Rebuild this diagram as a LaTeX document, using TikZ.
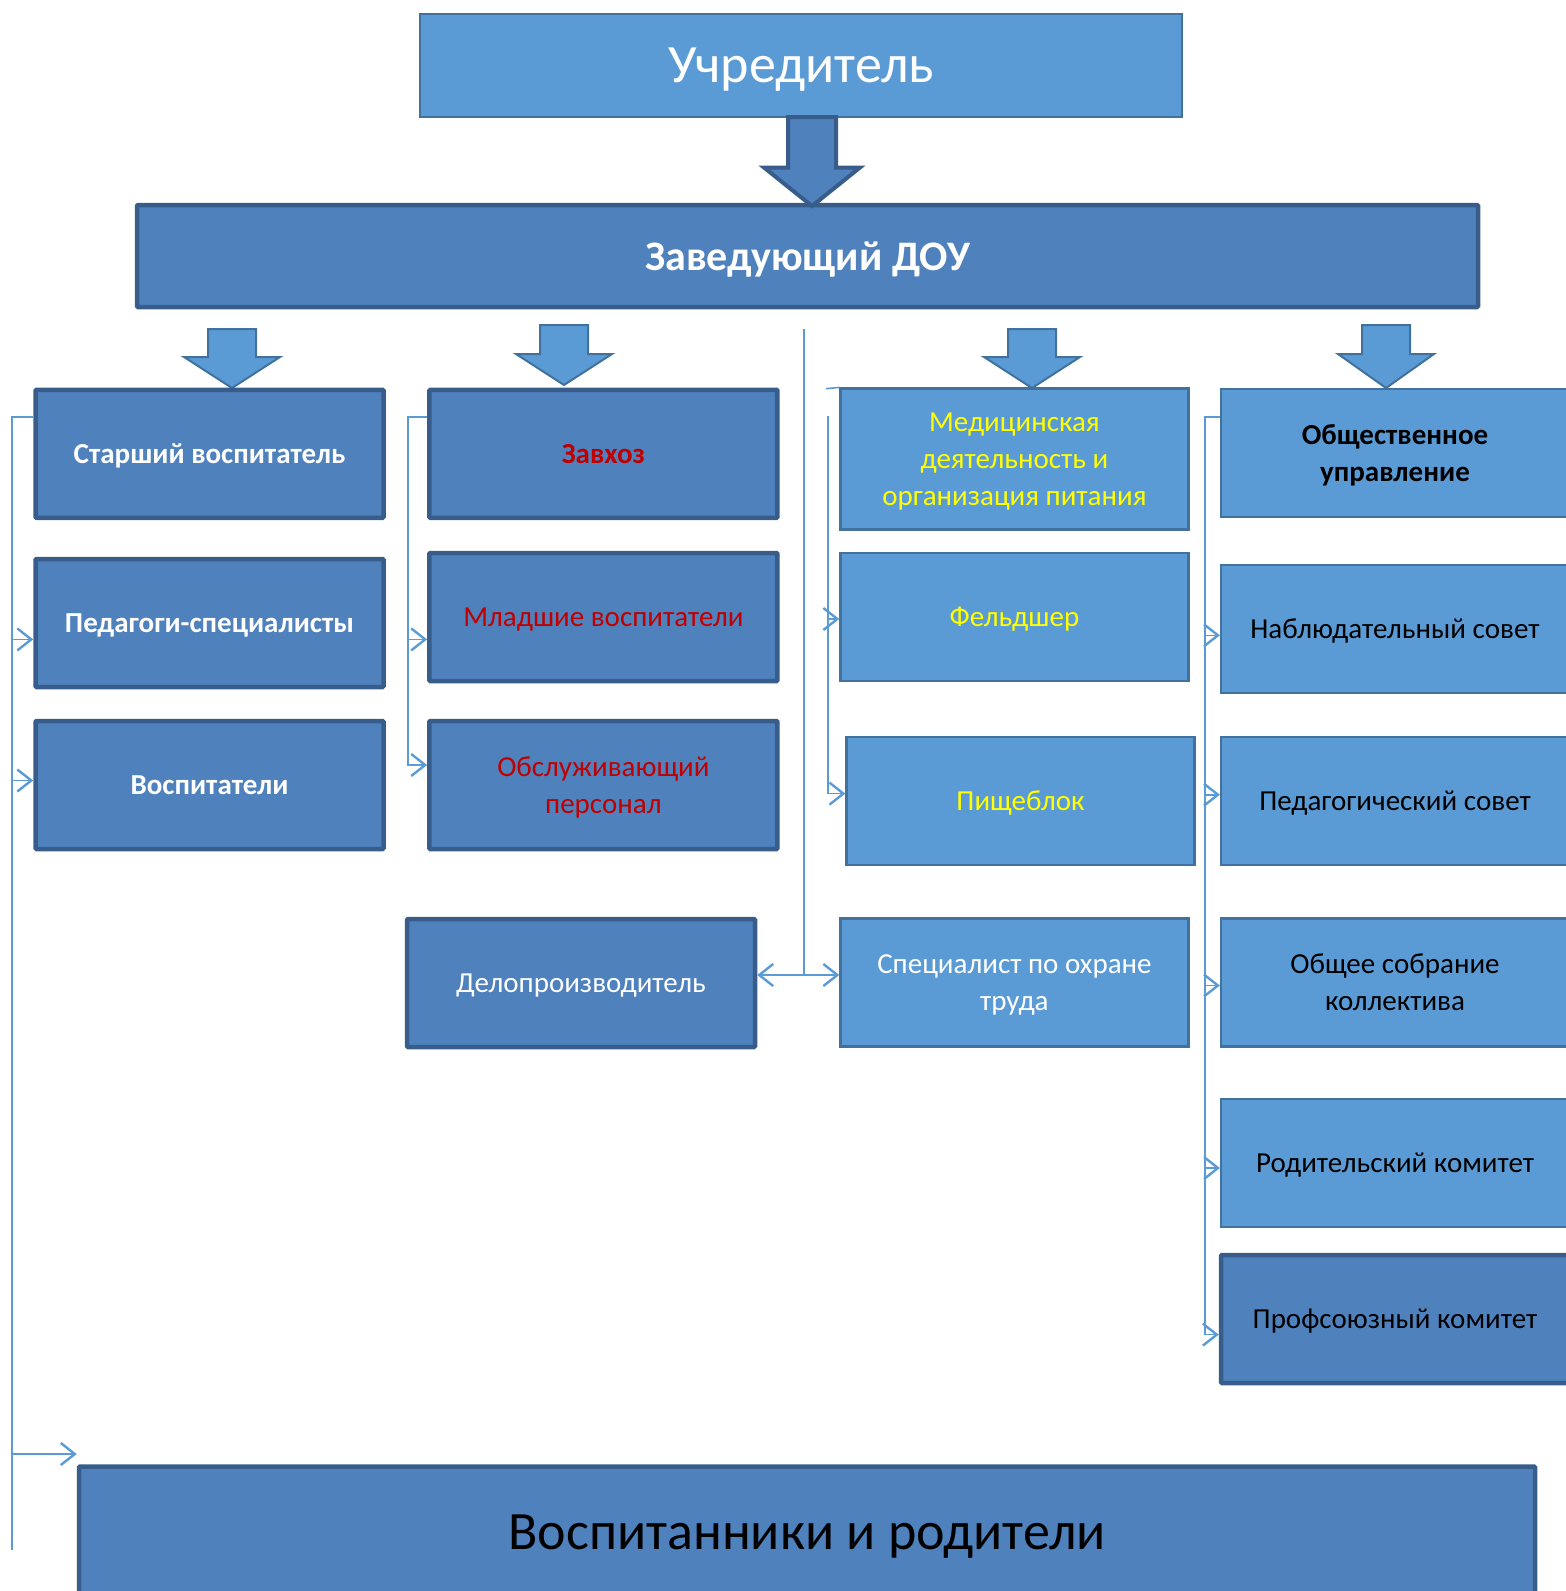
\documentclass[tikz,border=0pt]{standalone}
\usepackage{fontspec}
\setmainfont{Carlito}
\usetikzlibrary{arrows.meta}

\definecolor{ltfill}{HTML}{5B9BD5}
\definecolor{ltline}{HTML}{41719C}
\definecolor{dkfill}{HTML}{4F81BD}
\definecolor{dkline}{HTML}{385D8A}
\definecolor{redtxt}{HTML}{C00000}
\definecolor{yeltxt}{HTML}{FFFF00}

\tikzset{
  box/.style={minimum width=348pt, minimum height=128pt, inner sep=4pt, align=center,
    text depth=0pt, font=\fontsize{29}{37}\selectfont},
  darkbox/.style={box, fill=dkfill, draw=dkline, line width=4.5pt, rounded corners=1pt},
  lightbox/.style={box, fill=ltfill, draw=ltline, line width=2.2pt},
  link/.style={draw=ltfill, line width=1.6pt},
  linkarrow/.style={-{Straight Barb[length=14pt,width=22pt,line width=2.4pt]}},
  linkboth/.style={{Straight Barb[length=14pt,width=22pt,line width=2.4pt]}-{Straight Barb[length=14pt,width=22pt,line width=2.4pt]}},
  smallarrow/.style={fill=ltfill, draw=ltline, line width=2pt},
  bigarrow/.style={fill=dkfill, draw=dkline, line width=4pt}
}

\newcommand{\blockdown}[5][smallarrow]{%
  \draw[#1] ({#2-24},#3) -- ({#2+24},#3) -- ({#2+24},#4) -- ({#2+48},#4)
    -- (#2,#5) -- ({#2-48},#4) -- ({#2-24},#4) -- cycle;}

\begin{document}
\begin{tikzpicture}[x=1pt, y=-1pt]
  \path[use as bounding box] (0,0) rectangle (1566,1591);
  \clip (0,0) rectangle (1566,1591);

  \node[lightbox, minimum width=762pt, minimum height=103pt, text=white,
        font=\fontsize{54}{60}\selectfont] (founder) at (801,65.5) {Учредитель};
  \node[darkbox, minimum width=1341pt, minimum height=102pt, text=white,
        font=\fontsize{42}{50}\selectfont\bfseries] (head) at (807.5,256) {Заведующий ДОУ};
  \blockdown[bigarrow]{812}{117}{167.5}{206}

  \blockdown{232}{329}{357}{388}
  \blockdown{564}{325}{354}{385}
  \blockdown{1032}{329}{357}{388}
  \blockdown{1386}{325}{354}{388}

  \node[darkbox, text=white, font=\fontsize{29}{37}\selectfont\bfseries] (senior) at (209.5,453.8) {Старший воспитатель};
  \node[darkbox, text=white, font=\fontsize{29}{37}\selectfont\bfseries] (special) at (209.5,623) {Педагоги-специалисты};
  \node[darkbox, text=white, font=\fontsize{29}{37}\selectfont\bfseries] (teachers) at (209.5,785) {Воспитатели};

  \node[darkbox, text=redtxt, font=\fontsize{29}{37}\selectfont\bfseries] (supply) at (603.4,453.8) {Завхоз};
  \node[darkbox, text=redtxt] (junior) at (603.4,617) {Младшие воспитатели};
  \node[darkbox, text=redtxt] (service) at (603.4,785) {Обслуживающий\\персонал};
  \node[darkbox, text=white] (clerk) at (581,983) {Делопроизводитель};

  \node[lightbox, text=yeltxt, minimum height=141pt] (medical) at (1014.4,459) {Медицинская\\деятельность и\\организация питания};
  \node[lightbox, text=yeltxt] (medic) at (1014.4,617) {Фельдшер};
  \node[lightbox, text=yeltxt] (kitchen) at (1020.5,800.8) {Пищеблок};
  \node[lightbox, text=white] (safety) at (1014.4,982.5) {Специалист по охране\\труда};

  \node[lightbox, font=\fontsize{29}{37}\selectfont\bfseries] (public) at (1395,453) {Общественное\\управление};
  \node[lightbox] (board) at (1395,629) {Наблюдательный совет};
  \node[lightbox] (pedcouncil) at (1395,800.8) {Педагогический совет};
  \node[lightbox] (meeting) at (1395,982.5) {Общее собрание\\коллектива};
  \node[lightbox] (parents) at (1395,1163) {Родительский комитет};
  \node[darkbox] (union) at (1395,1319) {Профсоюзный комитет};

  \node[darkbox, minimum width=1456pt, minimum height=132pt,
        font=\fontsize{54}{60}\selectfont] (pupils) at (807,1532.5) {Воспитанники и родители};

  \coordinate (railA) at (12,417);
  \coordinate (railAend) at (12,1550);
  \draw[link] (senior.west |- railA) -- (railA) -- (railAend);
  \foreach \y/\n in {639.4/special, 780.5/teachers, 1454/pupils}
    \draw[link, linkarrow] (12,\y) -- (\n.west |- 12,\y);

  \coordinate (railB) at (408,417);
  \draw[link, linkarrow] (supply.west |- railB) -- (railB) |- (service.west |- 0,765);
  \draw[link, linkarrow] (408,639.4) -- (junior.west |- 0,639.4);

  \coordinate (mid) at (804,329);
  \draw[link] (mid) -- (804,975);
  \draw[link, linkboth] (clerk.east |- 0,975) -- (safety.west |- 0,975);

  \coordinate (railC) at (828,416);
  \draw[link] (826,388.7) -- (medical.north west);
  \draw[link, linkarrow] (railC) |- (kitchen.west |- 0,793.6);
  \draw[link, linkarrow] (828,619) -- (medic.west |- 0,619);

  \coordinate (railD) at (1204.7,417);
  \draw[link, linkarrow] (public.west |- railD) -- (railD) |- (union.west |- 0,1334.6);
  \foreach \y/\n in {635.3/board, 794.7/pedcouncil, 985.5/meeting, 1168/parents}
    \draw[link, linkarrow] (1204.7,\y) -- (\n.west |- 0,\y);
\end{tikzpicture}
\end{document}
